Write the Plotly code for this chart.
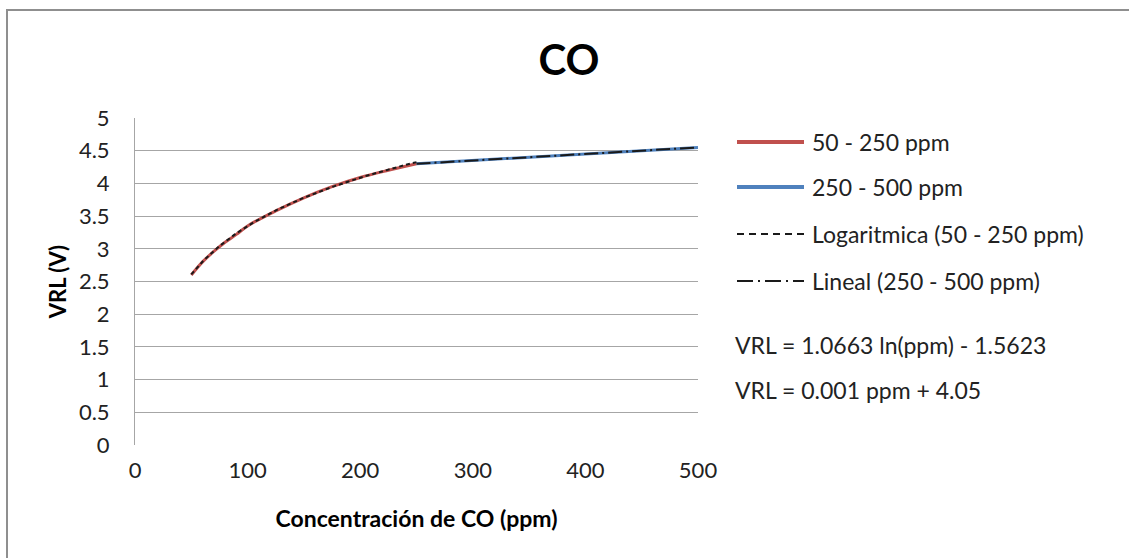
import numpy as np
import plotly.graph_objects as go

# Measured sensor output (VRL) against CO concentration
ppm_low = [50, 60, 70, 80, 90, 100, 125, 150, 175, 200, 225, 250]
vrl_low = [2.60, 2.80, 2.96, 3.10, 3.22, 3.35, 3.58, 3.78, 3.95, 4.09, 4.20, 4.30]
ppm_high = [250, 300, 350, 400, 450, 500]
vrl_high = [4.30, 4.35, 4.40, 4.45, 4.50, 4.55]

# Fitted trend lines (coefficients shown on the chart)
log_a, log_b = 1.0663, -1.5623
lin_m, lin_c = 0.001, 4.05

x_ticks = [0, 100, 200, 300, 400, 500]
y_ticks = [0, 0.5, 1, 1.5, 2, 2.5, 3, 3.5, 4, 4.5, 5]

legend_labels = ["50 - 250 ppm", "250 - 500 ppm",
                 "Logaritmica (50 - 250 ppm)", "Lineal (250 - 500 ppm)"]
eq_labels = ["VRL = 1.0663 ln(ppm) - 1.5623", "VRL = 0.001 ppm + 4.05"]

RED = "#C0504D"
BLUE = "#4F81BD"
FONT = "Lato"

W, H = 1129, 558
L, R, T, B = 135, 431, 118, 113
PW, PH = W - L - R, H - T - B


def px(x):
    return (x - L) / PW


def py(y):
    return (H - B - y) / PH


x_log = np.linspace(ppm_low[0], ppm_low[-1], 120)
y_log = log_a * np.log(x_log) + log_b
x_lin = np.array([ppm_high[0], ppm_high[-1]])
y_lin = lin_m * x_lin + lin_c

fig = go.Figure()
fig.add_trace(go.Scatter(x=ppm_low, y=vrl_low, mode="lines", line=dict(color=RED, width=3),
                         line_shape="spline", name=legend_labels[0]))
fig.add_trace(go.Scatter(x=ppm_high, y=vrl_high, mode="lines", line=dict(color=BLUE, width=3),
                         name=legend_labels[1]))
fig.add_trace(go.Scatter(x=x_log, y=y_log, mode="lines",
                         line=dict(color="#1a1a1a", width=2, dash="4px,3px"),
                         name=legend_labels[2]))
fig.add_trace(go.Scatter(x=x_lin, y=y_lin, mode="lines",
                         line=dict(color="#1a1a1a", width=2, dash="14px,4px,2px,4px"),
                         name=legend_labels[3]))

shapes = [
    # outer chart frame
    dict(type="rect", xref="paper", yref="paper", x0=px(7), x1=px(1300), y0=py(700), y1=py(10),
         line=dict(color="#8f8f8f", width=2), fillcolor="rgba(0,0,0,0)", layer="below"),
]
annotations = []

# hand-built legend
rows = [142, 187, 234, 281]
styles = [dict(color=RED, width=4), dict(color=BLUE, width=4),
          dict(color="#1a1a1a", width=2, dash="7px,5px"),
          dict(color="#1a1a1a", width=2, dash="16px,5px,2px,5px")]
for yy, st, lab in zip(rows, styles, legend_labels):
    shapes.append(dict(type="line", xref="paper", yref="paper", x0=px(737), x1=px(804),
                       y0=py(yy), y1=py(yy), line=st))
    annotations.append(dict(x=px(810), y=py(yy), xref="paper", yref="paper", text=lab,
                            showarrow=False, xanchor="left", yanchor="middle",
                            font=dict(family=FONT, size=23, color="#222222")))
for yy, lab in zip([345, 390], eq_labels):
    annotations.append(dict(x=px(733), y=py(yy), xref="paper", yref="paper", text=lab,
                            showarrow=False, xanchor="left", yanchor="middle",
                            font=dict(family=FONT, size=23, color="#222222")))

fig.update_layout(
    width=W, height=H,
    margin=dict(l=L, r=R, t=T, b=B),
    paper_bgcolor="white", plot_bgcolor="white",
    showlegend=False,
    title=dict(text="<b>CO</b>", x=569 / W, xanchor="center", y=1 - 60 / H, yanchor="middle",
               font=dict(family=FONT, size=42, color="black")),
    font=dict(family=FONT, size=22, color="#222222"),
    shapes=shapes,
    annotations=annotations,
)
fig.update_xaxes(range=[0, 500], tickvals=x_ticks, showgrid=False, zeroline=False,
                 showline=False, ticks="", ticklabelstandoff=10,
                 title=dict(text="<b>Concentración de CO (ppm)</b>", standoff=28,
                            font=dict(family=FONT, size=23, color="black")))
fig.update_yaxes(range=[0, 5], tickvals=y_ticks, showgrid=True, gridcolor="#a6a6a6",
                 gridwidth=1, zeroline=False, showline=True, linecolor="#a6a6a6",
                 linewidth=1, ticks="", ticklabelstandoff=20,
                 title=dict(text="<b>VRL (V)</b>", standoff=6,
                            font=dict(family=FONT, size=22, color="black")))

fig.write_html("out.html")
